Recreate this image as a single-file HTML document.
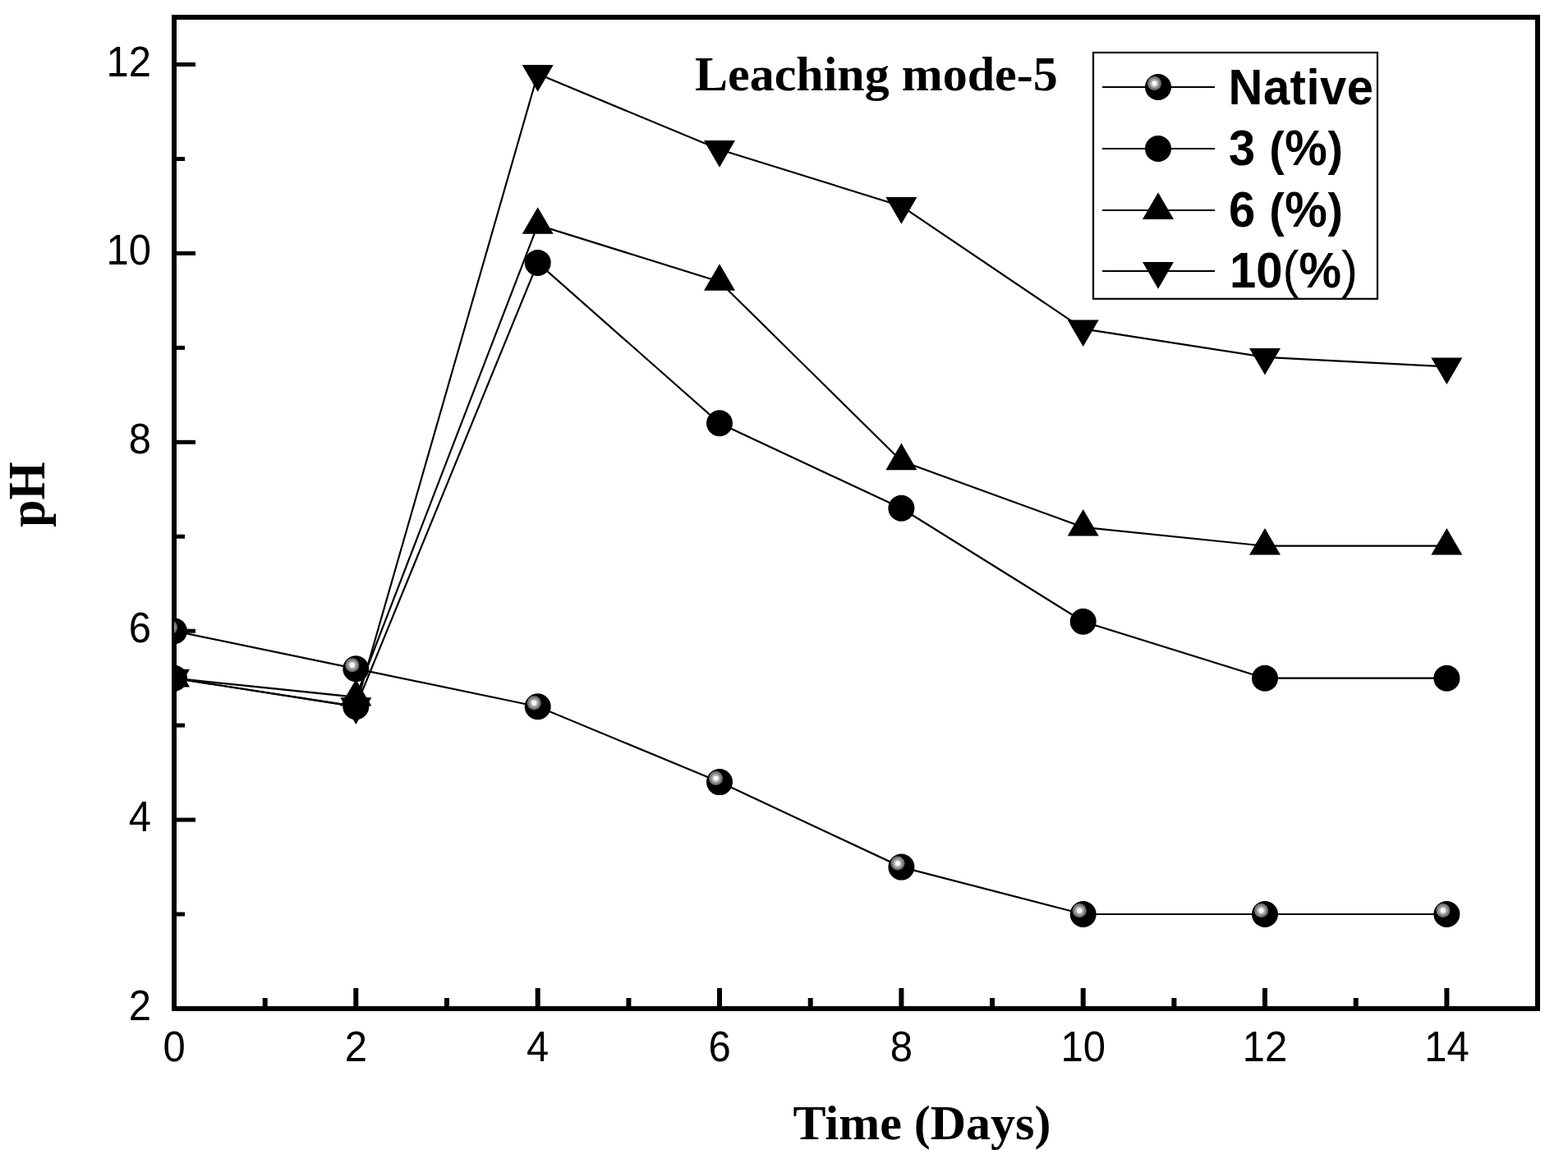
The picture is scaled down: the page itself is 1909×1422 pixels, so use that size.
<!DOCTYPE html>
<html><head><meta charset="utf-8"><title>Leaching mode-5 pH</title>
<style>
html,body{margin:0;padding:0;background:#fff;width:1909px;height:1422px;overflow:hidden}
svg{display:block}
.tl{font-family:"Liberation Sans",Arial,sans-serif;font-size:49px;fill:#000}
.lg{font-family:"Liberation Sans",Arial,sans-serif;font-weight:bold;font-size:58px;fill:#000}
.rp{font-weight:normal;font-size:60px}
.bp{font-size:55.5px}
.ttl{font-family:"Liberation Serif","Times New Roman",serif;font-weight:bold;font-size:58px;fill:#000}
</style></head><body>
<svg width="1909" height="1422" viewBox="0 0 1909 1422">
<defs><clipPath id="pc"><rect x="212" y="21" width="1660" height="1207"/></clipPath></defs>
<rect width="1909" height="1422" fill="#fff"/>
<rect x="212" y="21" width="1660" height="1207" fill="none" stroke="#000" stroke-width="6"/><line x1="212" y1="1228.0" x2="238" y2="1228.0" stroke="#000" stroke-width="5"/><line x1="212" y1="1113.0" x2="225" y2="1113.0" stroke="#000" stroke-width="5"/><line x1="212" y1="998.1" x2="238" y2="998.1" stroke="#000" stroke-width="5"/><line x1="212" y1="883.1" x2="225" y2="883.1" stroke="#000" stroke-width="5"/><line x1="212" y1="768.2" x2="238" y2="768.2" stroke="#000" stroke-width="5"/><line x1="212" y1="653.2" x2="225" y2="653.2" stroke="#000" stroke-width="5"/><line x1="212" y1="538.3" x2="238" y2="538.3" stroke="#000" stroke-width="5"/><line x1="212" y1="423.4" x2="225" y2="423.4" stroke="#000" stroke-width="5"/><line x1="212" y1="308.4" x2="238" y2="308.4" stroke="#000" stroke-width="5"/><line x1="212" y1="193.5" x2="225" y2="193.5" stroke="#000" stroke-width="5"/><line x1="212" y1="78.5" x2="238" y2="78.5" stroke="#000" stroke-width="5"/><line x1="212.0" y1="1228" x2="212.0" y2="1203" stroke="#000" stroke-width="6"/><line x1="322.7" y1="1228" x2="322.7" y2="1215" stroke="#000" stroke-width="6"/><line x1="433.3" y1="1228" x2="433.3" y2="1203" stroke="#000" stroke-width="6"/><line x1="544.0" y1="1228" x2="544.0" y2="1215" stroke="#000" stroke-width="6"/><line x1="654.7" y1="1228" x2="654.7" y2="1203" stroke="#000" stroke-width="6"/><line x1="765.4" y1="1228" x2="765.4" y2="1215" stroke="#000" stroke-width="6"/><line x1="876.0" y1="1228" x2="876.0" y2="1203" stroke="#000" stroke-width="6"/><line x1="986.7" y1="1228" x2="986.7" y2="1215" stroke="#000" stroke-width="6"/><line x1="1097.4" y1="1228" x2="1097.4" y2="1203" stroke="#000" stroke-width="6"/><line x1="1208.0" y1="1228" x2="1208.0" y2="1215" stroke="#000" stroke-width="6"/><line x1="1318.7" y1="1228" x2="1318.7" y2="1203" stroke="#000" stroke-width="6"/><line x1="1429.4" y1="1228" x2="1429.4" y2="1215" stroke="#000" stroke-width="6"/><line x1="1540.0" y1="1228" x2="1540.0" y2="1203" stroke="#000" stroke-width="6"/><line x1="1650.7" y1="1228" x2="1650.7" y2="1215" stroke="#000" stroke-width="6"/><line x1="1761.4" y1="1228" x2="1761.4" y2="1203" stroke="#000" stroke-width="6"/><line x1="1872.0" y1="1228" x2="1872.0" y2="1215" stroke="#000" stroke-width="6"/><text transform="translate(184 1242.0) scale(1 1.064)" text-anchor="end" class="tl">2</text><text transform="translate(184 1012.1) scale(1 1.064)" text-anchor="end" class="tl">4</text><text transform="translate(184 782.2) scale(1 1.064)" text-anchor="end" class="tl">6</text><text transform="translate(184 552.3) scale(1 1.064)" text-anchor="end" class="tl">8</text><text transform="translate(184 322.4) scale(1 1.064)" text-anchor="end" class="tl">10</text><text transform="translate(184 92.5) scale(1 1.064)" text-anchor="end" class="tl">12</text><text transform="translate(212.0 1292) scale(1 1.064)" text-anchor="middle" class="tl">0</text><text transform="translate(433.3 1292) scale(1 1.064)" text-anchor="middle" class="tl">2</text><text transform="translate(654.7 1292) scale(1 1.064)" text-anchor="middle" class="tl">4</text><text transform="translate(876.0 1292) scale(1 1.064)" text-anchor="middle" class="tl">6</text><text transform="translate(1097.4 1292) scale(1 1.064)" text-anchor="middle" class="tl">8</text><text transform="translate(1318.7 1292) scale(1 1.064)" text-anchor="middle" class="tl">10</text><text transform="translate(1540.0 1292) scale(1 1.064)" text-anchor="middle" class="tl">12</text><text transform="translate(1761.4 1292) scale(1 1.064)" text-anchor="middle" class="tl">14</text>
<g clip-path="url(#pc)"><polyline points="212.0,768.2 433.3,814.2 654.7,860.2 876.0,952.1 1097.4,1055.6 1318.7,1113.0 1540.0,1113.0 1761.4,1113.0" fill="none" stroke="#000" stroke-width="2.2"/><circle cx="212.0" cy="768.2" r="16.0" fill="#000"/><circle cx="207.5" cy="763.7" r="8.5" fill="#767676"/><circle cx="207.5" cy="763.7" r="5.8" fill="#ababab"/><circle cx="207.5" cy="763.7" r="3.2" fill="#f8f8f8"/><circle cx="433.3" cy="814.2" r="16.0" fill="#000"/><circle cx="428.8" cy="809.7" r="8.5" fill="#767676"/><circle cx="428.8" cy="809.7" r="5.8" fill="#ababab"/><circle cx="428.8" cy="809.7" r="3.2" fill="#f8f8f8"/><circle cx="654.7" cy="860.2" r="16.0" fill="#000"/><circle cx="650.2" cy="855.7" r="8.5" fill="#767676"/><circle cx="650.2" cy="855.7" r="5.8" fill="#ababab"/><circle cx="650.2" cy="855.7" r="3.2" fill="#f8f8f8"/><circle cx="876.0" cy="952.1" r="16.0" fill="#000"/><circle cx="871.5" cy="947.6" r="8.5" fill="#767676"/><circle cx="871.5" cy="947.6" r="5.8" fill="#ababab"/><circle cx="871.5" cy="947.6" r="3.2" fill="#f8f8f8"/><circle cx="1097.4" cy="1055.6" r="16.0" fill="#000"/><circle cx="1092.9" cy="1051.1" r="8.5" fill="#767676"/><circle cx="1092.9" cy="1051.1" r="5.8" fill="#ababab"/><circle cx="1092.9" cy="1051.1" r="3.2" fill="#f8f8f8"/><circle cx="1318.7" cy="1113.0" r="16.0" fill="#000"/><circle cx="1314.2" cy="1108.5" r="8.5" fill="#767676"/><circle cx="1314.2" cy="1108.5" r="5.8" fill="#ababab"/><circle cx="1314.2" cy="1108.5" r="3.2" fill="#f8f8f8"/><circle cx="1540.0" cy="1113.0" r="16.0" fill="#000"/><circle cx="1535.5" cy="1108.5" r="8.5" fill="#767676"/><circle cx="1535.5" cy="1108.5" r="5.8" fill="#ababab"/><circle cx="1535.5" cy="1108.5" r="3.2" fill="#f8f8f8"/><circle cx="1761.4" cy="1113.0" r="16.0" fill="#000"/><circle cx="1756.9" cy="1108.5" r="8.5" fill="#767676"/><circle cx="1756.9" cy="1108.5" r="5.8" fill="#ababab"/><circle cx="1756.9" cy="1108.5" r="3.2" fill="#f8f8f8"/><polyline points="212.0,825.7 433.3,860.2 654.7,319.9 876.0,515.3 1097.4,618.8 1318.7,756.7 1540.0,825.7 1761.4,825.7" fill="none" stroke="#000" stroke-width="2.2"/><circle cx="212.0" cy="825.7" r="16.0" fill="#000"/><circle cx="433.3" cy="860.2" r="16.0" fill="#000"/><circle cx="654.7" cy="319.9" r="16.0" fill="#000"/><circle cx="876.0" cy="515.3" r="16.0" fill="#000"/><circle cx="1097.4" cy="618.8" r="16.0" fill="#000"/><circle cx="1318.7" cy="756.7" r="16.0" fill="#000"/><circle cx="1540.0" cy="825.7" r="16.0" fill="#000"/><circle cx="1761.4" cy="825.7" r="16.0" fill="#000"/><polyline points="212.0,825.7 433.3,848.7 654.7,273.9 876.0,342.9 1097.4,561.3 1318.7,641.8 1540.0,664.7 1761.4,664.7" fill="none" stroke="#000" stroke-width="2.2"/><path d="M212.0 803.9L231.0 836.5L193.0 836.5Z" fill="#000"/><path d="M433.3 826.9L452.3 859.5L414.3 859.5Z" fill="#000"/><path d="M654.7 252.2L673.7 284.8L635.7 284.8Z" fill="#000"/><path d="M876.0 321.2L895.0 353.8L857.0 353.8Z" fill="#000"/><path d="M1097.4 539.6L1116.4 572.2L1078.4 572.2Z" fill="#000"/><path d="M1318.7 620.0L1337.7 652.6L1299.7 652.6Z" fill="#000"/><path d="M1540.0 643.0L1559.0 675.6L1521.0 675.6Z" fill="#000"/><path d="M1761.4 643.0L1780.4 675.6L1742.4 675.6Z" fill="#000"/><polyline points="212.0,825.7 433.3,860.2 654.7,90.0 876.0,182.0 1097.4,250.9 1318.7,400.4 1540.0,434.8 1761.4,446.3" fill="none" stroke="#000" stroke-width="2.2"/><path d="M193.0 814.8L231.0 814.8L212.0 847.4Z" fill="#000"/><path d="M414.3 849.3L452.3 849.3L433.3 881.9Z" fill="#000"/><path d="M635.7 79.1L673.7 79.1L654.7 111.7Z" fill="#000"/><path d="M857.0 171.1L895.0 171.1L876.0 203.7Z" fill="#000"/><path d="M1078.4 240.1L1116.4 240.1L1097.4 272.7Z" fill="#000"/><path d="M1299.7 389.5L1337.7 389.5L1318.7 422.1Z" fill="#000"/><path d="M1521.0 424.0L1559.0 424.0L1540.0 456.6Z" fill="#000"/><path d="M1742.4 435.5L1780.4 435.5L1761.4 468.1Z" fill="#000"/></g>
<text x="846" y="110" class="ttl" style="font-size:60px">Leaching mode-5</text>
<text x="1122.5" y="1387" text-anchor="middle" class="ttl" style="font-size:60px">Time (Days)</text>
<text transform="translate(54 602) rotate(-90) scale(1 1.05)" text-anchor="middle" class="ttl" style="font-size:59.5px">pH</text>
<rect x="1331" y="64" width="346" height="299.8" fill="#fff" stroke="#000" stroke-width="2.2"/>
<line x1="1342" y1="106" x2="1479" y2="106" stroke="#000" stroke-width="2.2"/>
<line x1="1342" y1="181" x2="1479" y2="181" stroke="#000" stroke-width="2.2"/>
<line x1="1342" y1="256" x2="1479" y2="256" stroke="#000" stroke-width="2.2"/>
<line x1="1342" y1="330" x2="1479" y2="330" stroke="#000" stroke-width="2.2"/>
<circle cx="1410.0" cy="106.0" r="16.0" fill="#000"/><circle cx="1405.5" cy="101.5" r="8.5" fill="#767676"/><circle cx="1405.5" cy="101.5" r="5.8" fill="#ababab"/><circle cx="1405.5" cy="101.5" r="3.2" fill="#f8f8f8"/><circle cx="1410.0" cy="181.0" r="16.0" fill="#000"/><path d="M1410.0 234.3L1429.0 266.9L1391.0 266.9Z" fill="#000"/><path d="M1391.0 319.1L1429.0 319.1L1410.0 351.7Z" fill="#000"/>
<text transform="translate(1495.5 127) scale(1 1.04)" class="lg" letter-spacing="0.5">Native</text>
<text transform="translate(1496 201) scale(1 1.04)" class="lg" letter-spacing="0.5">3 <tspan class="bp">(</tspan>%<tspan class="bp">)</tspan></text>
<text transform="translate(1496 276) scale(1 1.04)" class="lg" letter-spacing="0.5">6 <tspan class="bp">(</tspan>%<tspan class="bp">)</tspan></text>
<text transform="translate(1497 350) scale(1 1.04)" class="lg">10<tspan class="rp">(</tspan>%<tspan class="rp">)</tspan></text>
</svg>
</body></html>
